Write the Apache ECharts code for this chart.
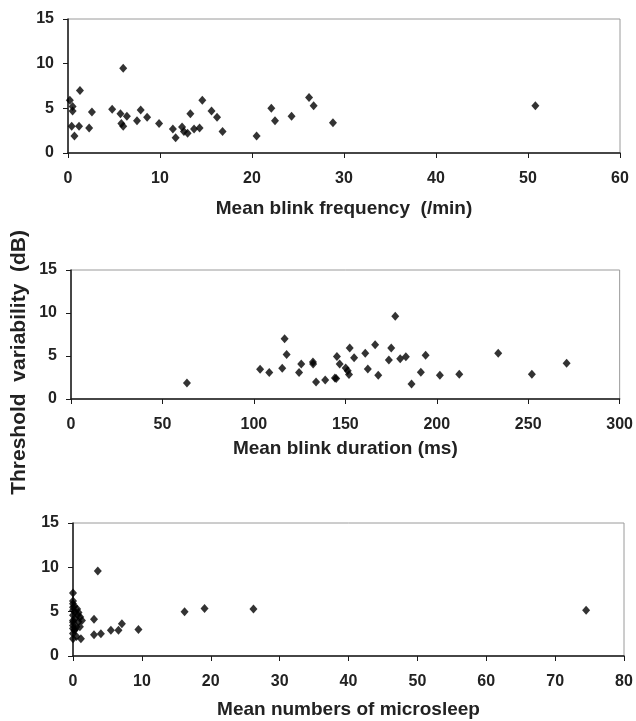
<!DOCTYPE html>
<html>
<head>
<meta charset="utf-8">
<script src="https://cdn.jsdelivr.net/npm/echarts@6/dist/echarts.min.js"></script>
<style>
  html, body { margin: 0; padding: 0; background: #fff; }
  #chart { width: 636px; height: 721px; }
</style>
</head>
<body>
<div id="chart"></div>
<script>
// threshold variability (dB) vs blink frequency (/min)
const blinkFreq = [
  [0.2, 5.9], [0.5, 5.2], [0.5, 4.7], [0.4, 3.0], [0.7, 1.9], [1.3, 7.0], [1.2, 3.0],
  [2.3, 2.8], [2.6, 4.6], [4.8, 4.9], [5.7, 4.4], [6.0, 9.5], [5.8, 3.3], [6.0, 3.0],
  [6.4, 4.1], [7.5, 3.6], [7.9, 4.8], [8.6, 4.0], [9.9, 3.3], [11.4, 2.7], [11.7, 1.7],
  [12.4, 2.9], [12.6, 2.4], [13.0, 2.2], [13.3, 4.4], [13.7, 2.7], [14.3, 2.8], [14.6, 5.9],
  [15.6, 4.7], [16.2, 4.0], [16.8, 2.4], [20.5, 1.9], [22.1, 5.0], [22.5, 3.6], [24.3, 4.1],
  [26.2, 6.2], [26.7, 5.3], [28.8, 3.4], [50.8, 5.3]
];

// threshold variability (dB) vs blink duration (ms)
const blinkDur = [
  [63.4, 1.85], [103.4, 3.45], [108.4, 3.07], [115.5, 3.57], [116.8, 7.02], [117.9, 5.18],
  [124.7, 3.08], [125.9, 4.07], [132.3, 4.29], [132.4, 4.08], [134, 1.99], [139, 2.22],
  [144.3, 2.44], [145, 2.38], [145.4, 4.95], [146.9, 4.06], [150.2, 3.6], [151.3, 3.28],
  [152, 2.85], [152.4, 5.92], [154.8, 4.8], [160.9, 5.31], [162.3, 3.49], [166.3, 6.32],
  [168, 2.75], [173.8, 4.53], [175.1, 5.93], [177.3, 9.61], [180, 4.69], [183.1, 4.92],
  [186.2, 1.74], [191.3, 3.1], [193.9, 5.08], [201.7, 2.75], [212.3, 2.87], [233.6, 5.31],
  [252, 2.87], [271, 4.15]
];

// threshold variability (dB) vs mean numbers of microsleep
const microsleep = [
  [0, 7.1], [0, 6.2], [0, 5.9], [0, 5.5], [0, 5.15], [0, 4.6], [0, 4.0], [0, 3.8], [0, 3.45],
  [0, 3.1], [0, 2.55], [0, 1.95], [0.3, 5.0], [0.6, 5.3], [0.2, 5.6], [0.3, 4.2], [0.7, 4.6],
  [1.05, 4.4], [0.8, 3.85], [0.5, 3.3], [0.2, 2.9], [0.3, 3.0], [1.0, 3.3], [1.3, 4.0],
  [0.5, 2.2], [0.8, 4.9], [1.15, 1.95], [3.6, 9.6], [3.05, 4.15], [3.05, 2.4], [4.05, 2.5],
  [5.5, 2.9], [6.6, 2.9], [7.1, 3.65], [9.5, 3.0], [16.2, 5.0], [19.1, 5.35], [26.2, 5.3],
  [74.5, 5.15]
];

const yTicks = { min: 0, max: 15, interval: 5 };
const xRanges = [
  { min: 0, max: 60, interval: 10, name: 'Mean blink frequency  (/min)' },
  { min: 0, max: 300, interval: 50, name: 'Mean blink duration (ms)' },
  { min: 0, max: 80, interval: 10, name: 'Mean numbers of microsleep' }
];
const panels = [blinkFreq, blinkDur, microsleep];

const chart = echarts.init(document.getElementById('chart'));

const font = 'Arial, "Liberation Sans", sans-serif';
const axisColor = '#1a1a1a';

const grids = [
  { left: 68, right: 16, top: 19, height: 134 },
  { left: 71, right: 16, top: 270, height: 129 },
  { left: 73, right: 12, top: 523, height: 133 }
].map(g => Object.assign(g, { show: true, borderColor: '#9a9a9a', borderWidth: 1 }));

const nameGaps = [46, 40, 44];

const xAxes = xRanges.map((r, i) => ({
  type: 'value',
  gridIndex: i,
  min: r.min, max: r.max, interval: r.interval,
  name: r.name,
  nameLocation: 'middle',
  nameGap: nameGaps[i],
  nameTextStyle: { fontFamily: font, fontWeight: 'bold', fontSize: 19, color: '#222' },
  axisLine: { show: true, lineStyle: { color: axisColor, width: 1.5 } },
  axisTick: { show: true, length: 5, lineStyle: { color: axisColor } },
  axisLabel: { margin: 18, fontFamily: font, fontWeight: 'bold', fontSize: 16, color: '#222' },
  splitLine: { show: false }
}));

const yAxes = panels.map((p, i) => ({
  type: 'value',
  gridIndex: i,
  min: yTicks.min, max: yTicks.max, interval: yTicks.interval,
  axisLine: { show: true, lineStyle: { color: axisColor, width: 1.5 } },
  axisTick: { show: true, length: 5, lineStyle: { color: axisColor } },
  axisLabel: { margin: 14, fontFamily: font, fontWeight: 'bold', fontSize: 16, color: '#222' },
  splitLine: { show: false }
}));

const series = panels.map((p, i) => ({
  type: 'scatter',
  xAxisIndex: i,
  yAxisIndex: i,
  data: p,
  symbol: 'diamond',
  symbolSize: [8, 9],
  itemStyle: { color: '#000' },
  silent: true
}));

chart.setOption({
  backgroundColor: '#fff',
  animation: false,
  grid: grids,
  xAxis: xAxes,
  yAxis: yAxes,
  series: series,
  graphic: [{
    type: 'text',
    left: 9,
    top: 230,
    rotation: Math.PI / 2,
    style: {
      text: 'Threshold  variability  (dB)',
      font: 'bold 21px ' + font,
      fill: '#222'
    }
  }]
});
</script>
</body>
</html>
